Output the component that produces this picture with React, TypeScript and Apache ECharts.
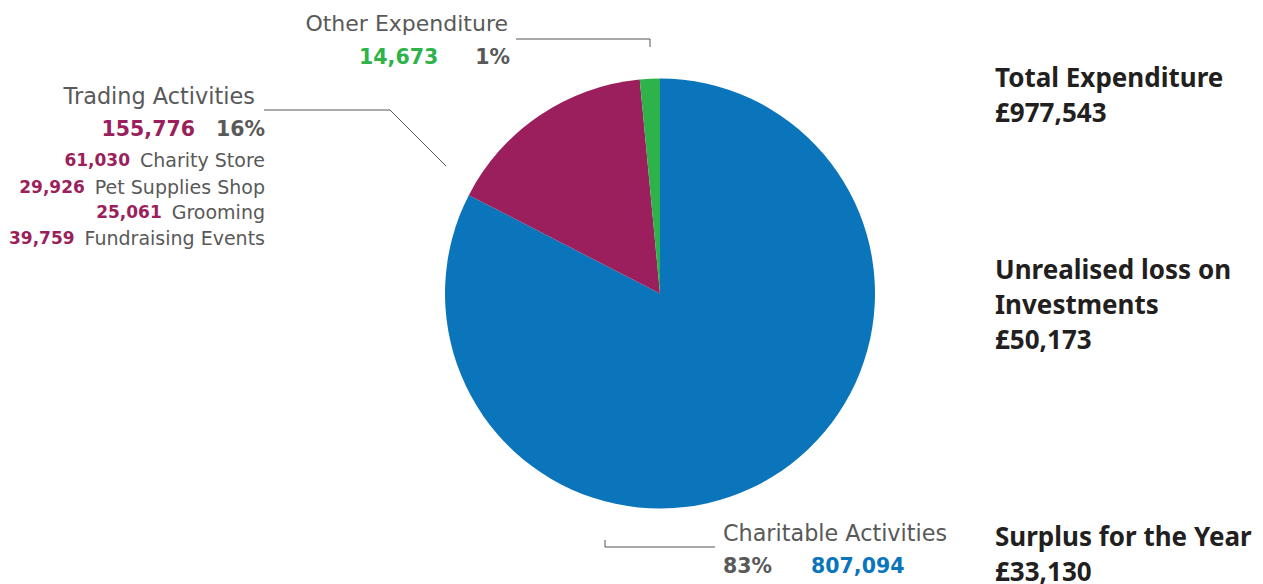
import React, { useEffect, useRef } from "react";
import * as echarts from "echarts";

const categories = ["Charitable Activities", "Trading Activities", "Other Expenditure"];
const values = [807094, 155776, 14673];
const percentLabels = ["83%", "16%", "1%"];
const colors = ["#0b75bb", "#9a1f5c", "#2db34a"];

const tradingItems = ["Charity Store", "Pet Supplies Shop", "Grooming", "Fundraising Events"];
const tradingValues = [61030, 29926, 25061, 39759];

const summaryLabels = [["Total Expenditure"], ["Unrealised loss on", "Investments"], ["Surplus for the Year"]];
const summaryValues = ["£977,543", "£50,173", "£33,130"];

const fmt = (v: number) => v.toLocaleString("en-GB");

const GRAY = "#595959";
const LABEL_FONT = "'DejaVu Sans', Verdana, sans-serif";
const NUM_FONT = "'DejaVu Sans', Verdana, sans-serif";
const RIGHT_FONT = "'Noto Sans', 'Open Sans', sans-serif";

function txt(x: number, y: number, text: string, size: number, color: string, align: string, weight: any = "normal", family = LABEL_FONT, rich?: any) {
  return {
    type: "text",
    x,
    y,
    silent: true,
    style: {
      text,
      fill: color,
      fontSize: size,
      fontWeight: weight,
      fontFamily: family,
      textAlign: align,
      align,
      textVerticalAlign: "middle",
      verticalAlign: "middle",
      rich,
    },
  };
}

function line(points: number[][]) {
  return {
    type: "polyline",
    silent: true,
    shape: { points },
    style: { stroke: "#555555", lineWidth: 1, fill: null },
  };
}

export default function App() {
  const ref = useRef<HTMLDivElement>(null);
  useEffect(() => {
    if (!ref.current) return;
    const chart = echarts.init(ref.current, null, { renderer: "svg" });

    const graphics: any[] = [];
    // Other Expenditure
    graphics.push(txt(508, 23, categories[2], 22, GRAY, "right"));
    graphics.push(
      txt(510, 57, `{n|${fmt(values[2])}}{p|${percentLabels[2]}}`, 20.5, GRAY, "right", "bold", NUM_FONT, {
        n: { fill: colors[2], fontSize: 20.5, fontWeight: "bold", fontFamily: NUM_FONT, padding: [0, 37, 0, 0] },
        p: { fill: GRAY, fontSize: 20.5, fontWeight: "bold", fontFamily: NUM_FONT },
      })
    );
    graphics.push(line([[516, 39], [650, 39], [650, 47]]));

    // Trading Activities
    graphics.push(txt(255, 96, categories[1], 22.4, GRAY, "right"));
    graphics.push(
      txt(265, 129, `{n|${fmt(values[1])}}{p|${percentLabels[1]}}`, 20.5, GRAY, "right", "bold", NUM_FONT, {
        n: { fill: colors[1], fontSize: 20.5, fontWeight: "bold", fontFamily: NUM_FONT, padding: [0, 21, 0, 0] },
        p: { fill: GRAY, fontSize: 20.5, fontWeight: "bold", fontFamily: NUM_FONT },
      })
    );
    const rowY = [160, 187, 212, 238];
    tradingItems.forEach((name, i) => {
      graphics.push(
        txt(265, rowY[i], `{n|${fmt(tradingValues[i])}}{t|${name}}`, 18, GRAY, "right", "normal", LABEL_FONT, {
          n: { fill: colors[1], fontSize: 17, fontWeight: "bold", fontFamily: NUM_FONT, padding: [0, 10, 0, 0] },
          t: { fill: GRAY, fontSize: 19, fontFamily: LABEL_FONT },
        })
      );
    });
    graphics.push(line([[264, 110], [390, 110], [446, 166]]));

    // Charitable Activities
    graphics.push(txt(723, 533, categories[0], 22.3, GRAY, "left"));
    graphics.push(
      txt(723, 566, `{p|${percentLabels[0]}}{n|${fmt(values[0])}}`, 20.5, GRAY, "left", "bold", NUM_FONT, {
        p: { fill: GRAY, fontSize: 20.5, fontWeight: "bold", fontFamily: NUM_FONT, padding: [0, 39, 0, 0] },
        n: { fill: colors[0], fontSize: 20.5, fontWeight: "bold", fontFamily: NUM_FONT },
      })
    );
    graphics.push(line([[605, 540], [605, 547], [715, 547]]));

    // Summary on the right
    const summaryY = [77, 269, 536];
    summaryLabels.forEach((lines, i) => {
      const all = [...lines, summaryValues[i]];
      all.forEach((t, j) => {
        graphics.push(txt(995, summaryY[i] + j * 35, t, 26, "#231f20", "left", "bold", RIGHT_FONT));
      });
    });

    chart.setOption({
      animation: false,
      backgroundColor: "#ffffff",
      series: [
        {
          type: "pie",
          center: [660, 293.5],
          radius: [0, 215],
          startAngle: 90,
          clockwise: true,
          silent: true,
          label: { show: false },
          labelLine: { show: false },
          itemStyle: { borderWidth: 0 },
          data: categories.map((name, i) => ({ name, value: values[i], itemStyle: { color: colors[i] } })),
        },
      ],
      graphic: graphics,
    });
    return () => chart.dispose();
  }, []);
  return <div ref={ref} style={{ position: "fixed", left: 0, top: 0, width: 1263, height: 584 }} />;
}
